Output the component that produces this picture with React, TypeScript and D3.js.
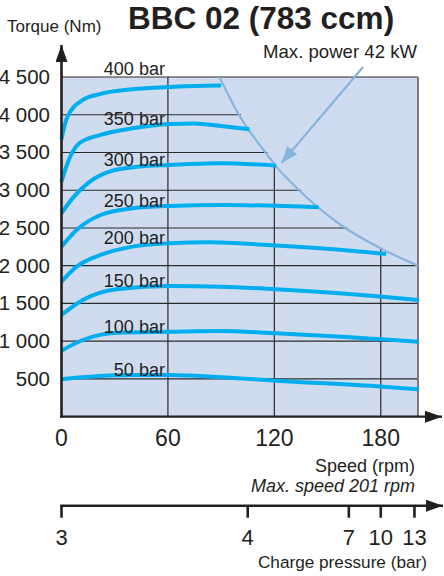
import React, { useEffect, useRef } from 'react';
import * as d3 from 'd3';

// axis ticks
const speedTicks = [0, 60, 120, 180];
const torqueTicks = [500, 1000, 1500, 2000, 2500, 3000, 3500, 4000, 4500];
const chargeTicks = [3, 4, 7, 10, 13];
const chargeTickSpeeds = [0, 105, 162, 180, 199];

// torque curves, [rpm, Nm]
const pressureLabels = ['400 bar', '350 bar', '300 bar', '250 bar', '200 bar', '150 bar', '100 bar', '50 bar'];
const bar400 = [[0, 3675], [3, 3955], [12, 4196], [22, 4276], [40, 4338], [61, 4369], [90, 4386]];
const bar350 = [[0, 3114], [3, 3335], [10, 3622], [22, 3733], [40, 3821], [61, 3878], [75, 3885], [90, 3850], [106, 3808]];
const bar300 = [[0, 2695], [7, 2915], [16, 3114], [27, 3246], [44, 3313], [61, 3335], [90, 3357], [121, 3326]];
const bar250 = [[0, 2253], [8.5, 2474], [22, 2672], [40, 2761], [61, 2792], [90, 2805], [145, 2775]];
const bar200 = [[0, 1789], [8.5, 1988], [22, 2143], [40, 2253], [61, 2298], [84, 2312], [90, 2306], [146, 2231], [183, 2156]];
const bar150 = [[0, 1348], [12, 1546], [31, 1688], [61, 1732], [90, 1723], [121, 1688], [181, 1590], [201, 1546]];
const bar100 = [[0, 875], [12, 1016], [31, 1113], [61, 1126], [90, 1136], [121, 1105], [158, 1060], [181, 1025], [201, 994]];
const bar50 = [[0, 495], [12, 522], [40, 552], [61, 552], [90, 522], [121, 477], [181, 398], [201, 363]];
const series = [bar400, bar350, bar300, bar250, bar200, bar150, bar100, bar50];

// max power line (42 kW), [rpm, Nm]
const powerCurve = [[89, 4500], [100, 4000], [115, 3500], [122, 3290], [134, 3000], [150, 2670], [160, 2500], [180, 2230], [201, 2000]];
const arrowFrom = [170, 4633];
const arrowTo = [124, 3360];

const maxSpeed = 201;
const maxTorque = 4500;

const FONT = '"Liberation Sans", Arial, Helvetica, sans-serif';

const fmtTorque = (d: number) =>
    d >= 1000 ? `${Math.floor(d / 1000)} ${String(d % 1000).padStart(3, '0')}` : String(d);

export default function App() {
    const svgRef = useRef<SVGSVGElement>(null);

    useEffect(() => {
        if (!svgRef.current) return;
        const svg = d3.select(svgRef.current);
        svg.selectAll('*').remove();

        const x = d3.scaleLinear().domain([0, maxSpeed]).range([61.5, 418]);
        const y = d3.scaleLinear().domain([0, maxTorque]).range([416.7, 77]);

        // torque -> rpm and rpm -> torque along the max power line
        const rpmAtTorque = d3.scaleLinear()
            .domain(powerCurve.map(d => d[1]))
            .range(powerCurve.map(d => d[0]))
            .clamp(true);
        const torqueAtRpm = d3.scaleLinear()
            .domain(powerCurve.map(d => d[0]))
            .range(powerCurve.map(d => d[1]))
            .clamp(true);

        const defs = svg.append('defs');
        const marker = (id: string, color: string, w: number, h: number) => {
            defs.append('marker')
                .attr('id', id)
                .attr('viewBox', `0 0 ${w} ${h}`)
                .attr('refX', w).attr('refY', h / 2)
                .attr('markerWidth', w).attr('markerHeight', h)
                .attr('markerUnits', 'userSpaceOnUse')
                .attr('orient', 'auto')
                .append('path')
                .attr('d', `M0,0L${w},${h / 2}L0,${h}Z`)
                .attr('fill', color);
        };
        marker('ax', '#231f20', 17, 12);
        marker('pw', '#86b4dc', 17, 13);

        // background
        svg.append('rect')
            .attr('x', x(0)).attr('y', y(maxTorque))
            .attr('width', x(maxSpeed) - x(0)).attr('height', y(0) - y(maxTorque))
            .attr('fill', '#cfdcf0');

        // grid, stopped at the max power line
        const grid = svg.append('g').attr('stroke', '#2b2b2b').attr('stroke-width', 1.2);
        grid.selectAll('line.h')
            .data(torqueTicks.filter(t => t < maxTorque))
            .join('line')
            .attr('x1', x(0))
            .attr('x2', t => Math.min(x(maxSpeed), x(t > powerCurve[powerCurve.length - 1][1] ? rpmAtTorque(t) : maxSpeed) + 2))
            .attr('y1', t => y(t)).attr('y2', t => y(t));
        grid.selectAll('line.v')
            .data(speedTicks.filter(s => s > 0))
            .join('line')
            .attr('x1', s => x(s)).attr('x2', s => x(s))
            .attr('y1', y(0))
            .attr('y2', s => y(s < powerCurve[0][0] ? maxTorque : torqueAtRpm(s)));
        // top border
        svg.append('line')
            .attr('x1', x(0)).attr('x2', x(maxSpeed))
            .attr('y1', y(maxTorque)).attr('y2', y(maxTorque))
            .attr('stroke', '#2b2b2b').attr('stroke-width', 1.2);
        // right border
        svg.append('line')
            .attr('x1', x(maxSpeed)).attr('x2', x(maxSpeed))
            .attr('y1', y(maxTorque)).attr('y2', y(0))
            .attr('stroke', '#6d6e71').attr('stroke-width', 1.8);

        const line = d3.line<number[]>()
            .x(d => x(d[0]))
            .y(d => y(d[1]))
            .curve(d3.curveMonotoneX);

        // max power line + arrow
        svg.append('path')
            .attr('d', line(powerCurve))
            .attr('fill', 'none')
            .attr('stroke', '#86b4dc')
            .attr('stroke-width', 2.2);
        svg.append('line')
            .attr('x1', x(arrowFrom[0])).attr('y1', y(arrowFrom[1]))
            .attr('x2', x(arrowTo[0])).attr('y2', y(arrowTo[1]))
            .attr('stroke', '#86b4dc')
            .attr('stroke-width', 2.2)
            .attr('marker-end', 'url(#pw)');

        // torque curves
        svg.append('g')
            .selectAll('path')
            .data(series)
            .join('path')
            .attr('d', d => line(d))
            .attr('fill', 'none')
            .attr('stroke', '#00aeef')
            .attr('stroke-width', 4)
            .attr('stroke-linecap', 'butt');

        // curve labels, sitting on the curve at 60 rpm
        const at60 = (d: number[][]) => d3.scaleLinear().domain(d.map(p => p[0])).range(d.map(p => p[1]))(60);
        svg.append('g')
            .selectAll('text')
            .data(series)
            .join('text')
            .attr('x', x(60) - 3)
            .attr('y', d => {
                const yy = y(at60(d));
                return yy - y(maxTorque) < 15 ? y(maxTorque) - 2 : yy + 1;
            })
            .attr('text-anchor', 'end')
            .attr('font-family', FONT)
            .attr('font-size', 18)
            .attr('fill', '#231f20')
            .text((d, i) => pressureLabels[i]);

        // y axis
        svg.append('line')
            .attr('x1', x(0)).attr('x2', x(0))
            .attr('y1', y(0) + 1).attr('y2', 45)
            .attr('stroke', '#231f20').attr('stroke-width', 2.6)
            .attr('marker-end', 'url(#ax)');
        svg.append('g')
            .selectAll('text')
            .data(torqueTicks)
            .join('text')
            .attr('x', 50)
            .attr('y', d => y(d) + 7)
            .attr('text-anchor', 'end')
            .attr('font-family', FONT)
            .attr('font-size', 20.5)
            .attr('fill', '#231f20')
            .text(d => fmtTorque(d));

        // speed axis
        svg.append('line')
            .attr('x1', x(0) - 1.3).attr('x2', 442)
            .attr('y1', y(0)).attr('y2', y(0))
            .attr('stroke', '#231f20').attr('stroke-width', 2.2)
            .attr('marker-end', 'url(#ax)');
        svg.append('g')
            .selectAll('text')
            .data(speedTicks)
            .join('text')
            .attr('x', d => x(d))
            .attr('y', 446)
            .attr('text-anchor', 'middle')
            .attr('font-family', FONT)
            .attr('font-size', 23)
            .attr('fill', '#231f20')
            .text(d => d);

        // charge pressure axis
        const cy = 505.7;
        svg.append('line')
            .attr('x1', x(0) - 1.3).attr('x2', 443)
            .attr('y1', cy).attr('y2', cy)
            .attr('stroke', '#231f20').attr('stroke-width', 2.6)
            .attr('marker-end', 'url(#ax)');
        svg.append('g')
            .selectAll('line')
            .data(chargeTickSpeeds)
            .join('line')
            .attr('x1', d => x(d)).attr('x2', d => x(d))
            .attr('y1', cy).attr('y2', cy + 12)
            .attr('stroke', '#231f20').attr('stroke-width', 2.6);
        svg.append('g')
            .selectAll('text')
            .data(chargeTicks)
            .join('text')
            .attr('x', (d, i) => x(chargeTickSpeeds[i]))
            .attr('y', 545)
            .attr('text-anchor', 'middle')
            .attr('font-family', FONT)
            .attr('font-size', 22)
            .attr('fill', '#231f20')
            .text(d => d);

        // texts
        const txt = (tx: number, ty: number, s: string, size: number, anchor = 'start', extra: Record<string, string> = {}) => {
            const t = svg.append('text')
                .attr('x', tx).attr('y', ty)
                .attr('text-anchor', anchor)
                .attr('font-family', FONT)
                .attr('font-size', size)
                .attr('fill', '#231f20')
                .text(s);
            Object.entries(extra).forEach(([k, v]) => t.attr(k, v));
        };
        txt(7, 32, 'Torque (Nm)', 17);
        txt(128, 29, 'BBC 02 (783 ccm)', 31.5, 'start', { 'font-weight': 'bold' });
        txt(417, 58, 'Max. power 42 kW', 18.6, 'end');
        txt(415, 472, 'Speed (rpm)', 18, 'end');
        txt(415, 492, 'Max. speed 201 rpm', 18, 'end', { 'font-style': 'italic' });
        txt(427, 568, 'Charge pressure (bar)', 17.2, 'end');
    }, []);

    return (
        <svg
            ref={svgRef}
            width={444}
            height={576}
            style={{ position: 'absolute', left: 0, top: 0, background: '#fff' }}
        />
    );
}
